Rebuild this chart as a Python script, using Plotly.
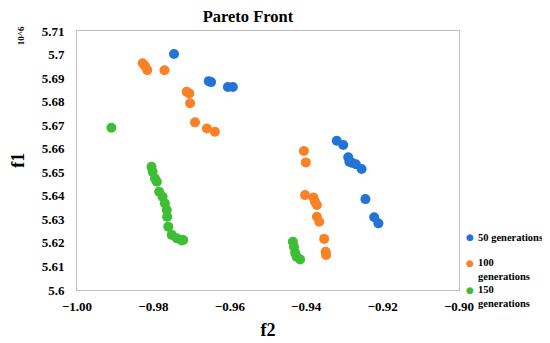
import plotly.graph_objects as go

# ---- data ----
gen50_f2 = [-0.9746, -0.9655, -0.9649, -0.9605, -0.9592, -0.9320, -0.9303, -0.9290, -0.9287,
            -0.9280, -0.9270, -0.9255, -0.9245, -0.9222, -0.9211]
gen50_f1 = [5.7002, 5.6887, 5.6883, 5.6862, 5.6862, 5.6634, 5.6616, 5.6564, 5.6545,
            5.6540, 5.6534, 5.6514, 5.6386, 5.6309, 5.6283]

gen100_f2 = [-0.9828, -0.9822, -0.9816, -0.9771, -0.9713, -0.9706, -0.9704, -0.9691, -0.9660,
             -0.9639, -0.9406, -0.9401, -0.9403, -0.9381, -0.9377, -0.9372, -0.9372, -0.9366,
             -0.9353, -0.9349, -0.9348]
gen100_f1 = [5.6963, 5.6951, 5.6934, 5.6933, 5.6842, 5.6835, 5.6793, 5.6712, 5.6686,
             5.6672, 5.6590, 5.6542, 5.6403, 5.6393, 5.6375, 5.6361, 5.6311, 5.6290,
             5.6217, 5.6162, 5.6149]

gen150_f2 = [-0.9910, -0.9805, -0.9802, -0.9796, -0.9791, -0.9785, -0.9776, -0.9770, -0.9765,
             -0.9764, -0.9761, -0.9752, -0.9739, -0.9726, -0.9722, -0.9435, -0.9432, -0.9429,
             -0.9425, -0.9416]
gen150_f1 = [5.6689, 5.6523, 5.6502, 5.6474, 5.6460, 5.6417, 5.6396, 5.6368, 5.6340,
             5.6311, 5.6269, 5.6234, 5.6220, 5.6210, 5.6212, 5.6205, 5.6184, 5.6158,
             5.6141, 5.6130]

series_names = ["50 generations", "100<br>generations", "150<br>generations"]
series_colors = ["#2474D6", "#FB8127", "#3DBE35"]
series_data = [(gen50_f2, gen50_f1), (gen100_f2, gen100_f1), (gen150_f2, gen150_f1)]

FONT = "Liberation Serif"

fig = go.Figure()
for name, (xs, ys), col in zip(series_names, series_data, series_colors):
    fig.add_trace(go.Scatter(x=xs, y=ys, mode="markers", name=name.replace("<br>", " "),
                             showlegend=False,
                             marker=dict(color=col, size=10, line=dict(width=0))))

# legend drawn as text (symbol + label), placed right of the plot
legend_marker_y = [0.2046, 0.1042, 0.0]
legend_text_y = [0.2046, 0.079, -0.027]
annotations = [
    dict(text="<b>10^6</b>", xref="paper", yref="paper", x=-0.146, y=0.981,
         xanchor="center", yanchor="middle",
         showarrow=False, textangle=-90, font=dict(size=9, family=FONT)),
    dict(text="<b>f1</b>", xref="paper", yref="paper", x=-0.155, y=0.502,
         xanchor="center", yanchor="middle",
         showarrow=False, textangle=-90, font=dict(size=18, family=FONT)),
]
for name, col, my, ty in zip(series_names, series_colors, legend_marker_y, legend_text_y):
    annotations.append(dict(text="●", xref="paper", yref="paper", x=1.0288, y=my,
                            xanchor="center", yanchor="middle", showarrow=False,
                            font=dict(size=9, color=col, family="DejaVu Sans")))
    annotations.append(dict(text="<b>" + name + "</b>", xref="paper", yref="paper",
                            x=1.0445, y=ty, xanchor="left", yanchor="middle", align="left",
                            showarrow=False, font=dict(size=10.5, family=FONT, color="black")))

fig.update_layout(
    width=542, height=335,
    margin=dict(l=69, r=91, t=23, b=53, autoexpand=False),
    paper_bgcolor="white", plot_bgcolor="white",
    font=dict(family=FONT, color="black"),
    showlegend=False,
    title=dict(text="<b>Pareto Front</b>", x=0.4476, xanchor="center", xref="paper",
               yref="container", y=0.992, yanchor="top", pad=dict(t=0, b=0),
               font=dict(size=16.5, family=FONT, color="black")),
    xaxis=dict(range=[-1.0, -0.9], dtick=0.02, tick0=-1.0, tickformat=".2f",
               showgrid=False, zeroline=False, showline=True, mirror=True,
               linecolor="#BFBFBF", linewidth=1, ticks="", automargin=False,
               ticklabelstandoff=4,
               tickfont=dict(size=13, family=FONT, color="black", weight="bold"),
               title=dict(text="<b>f2</b>", font=dict(size=18, family=FONT), standoff=10)),
    yaxis=dict(range=[5.6, 5.71], dtick=0.01, tick0=5.6,
               showgrid=False, zeroline=False, showline=True, mirror=True,
               linecolor="#BFBFBF", linewidth=1, ticks="", automargin=False,
               ticklabelstandoff=9,
               tickfont=dict(size=13, family=FONT, color="black", weight="bold")),
    annotations=annotations,
)

fig.write_html("out.html")
